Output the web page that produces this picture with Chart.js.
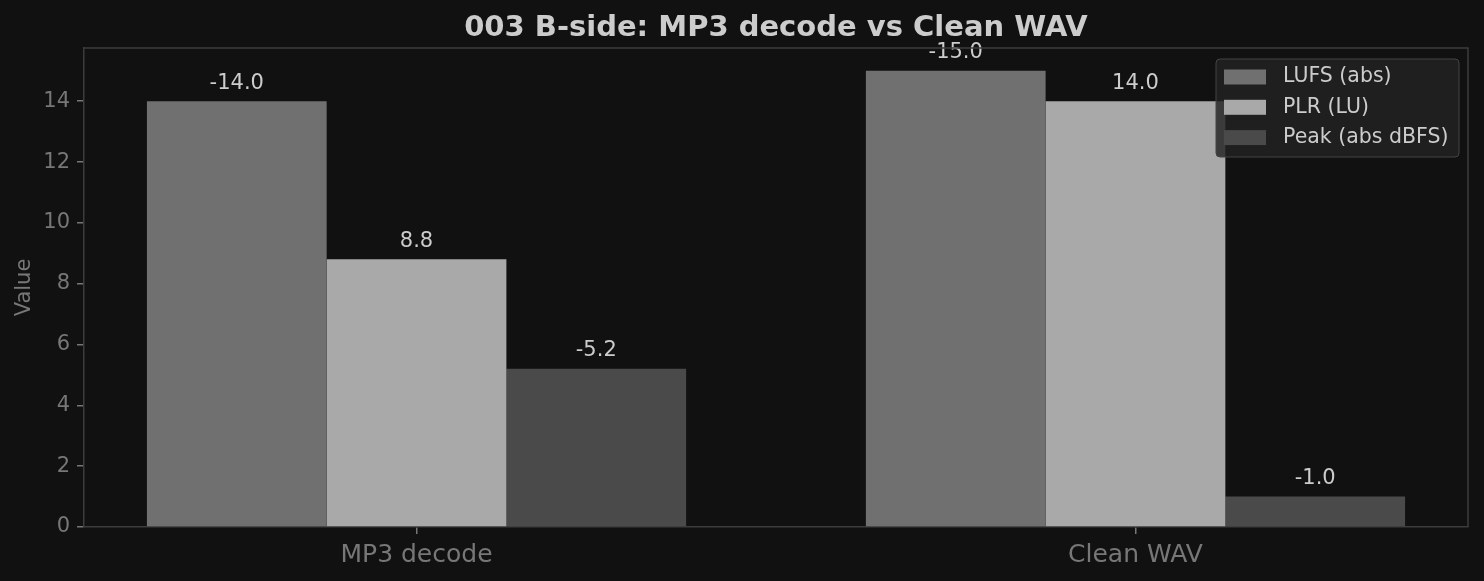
<!DOCTYPE html>
<html>
<head>
<meta charset="utf-8">
<script src="https://cdn.jsdelivr.net/npm/chart.js@4"></script>
<style>
    html, body { margin: 0; padding: 0; background: #111111; }
    canvas { display: block; }
</style>
</head>
<body>
<canvas id="chart" width="1484" height="581"></canvas>
<script>
const categories = ['MP3 decode', 'Clean WAV'];
const lufs = [-14.0, -15.0];
const plr = [8.8, 14.0];
const peak = [-5.2, -1.0];
const seriesLabels = ['LUFS (abs)', 'PLR (LU)', 'Peak (abs dBFS)'];
const seriesColors = ['#707070', '#a9a9a9', '#4a4a4a'];
const yTicks = [0, 2, 4, 6, 8, 10, 12, 14];

const FONT = "'DejaVu Sans', sans-serif";

function toPoints(values) {
    return values.map((v, i) => ({ x: i, y: Math.abs(v) }));
}

const rawSeries = [lufs, plr, peak];

// value labels above bars + frame + title + legend
const decorPlugin = {
    id: 'decor',
    afterDatasetsDraw(chart) {
        const ctx = chart.ctx;
        const area = chart.chartArea;

        // value labels
        ctx.save();
        ctx.font = `21px ${FONT}`;
        ctx.fillStyle = '#cccccc';
        ctx.textAlign = 'center';
        ctx.textBaseline = 'middle';
        chart.data.datasets.forEach((ds, di) => {
            const meta = chart.getDatasetMeta(di);
            meta.data.forEach((bar, i) => {
                ctx.fillText(rawSeries[di][i].toFixed(1), bar.x, bar.y - 18);
            });
        });
        ctx.restore();

        // top / right spines
        ctx.save();
        ctx.strokeStyle = '#3c3c3c';
        ctx.lineWidth = 1.5;
        ctx.beginPath();
        ctx.moveTo(area.left, area.top);
        ctx.lineTo(area.right, area.top);
        ctx.lineTo(area.right, area.bottom);
        ctx.stroke();
        ctx.restore();

        // title
        ctx.save();
        ctx.font = `bold 29px ${FONT}`;
        ctx.fillStyle = '#cccccc';
        ctx.textAlign = 'center';
        ctx.textBaseline = 'middle';
        ctx.fillText('003 B-side: MP3 decode vs Clean WAV', (area.left + area.right) / 2, 28);
        ctx.restore();

        // legend
        const lx = 1216, ly = 59, lw = 243, lh = 98;
        ctx.save();
        ctx.fillStyle = 'rgba(34,34,34,0.82)';
        ctx.strokeStyle = '#444444';
        ctx.lineWidth = 1;
        ctx.beginPath();
        ctx.roundRect(lx, ly, lw, lh, 4);
        ctx.fill();
        ctx.stroke();
        ctx.font = `20.5px ${FONT}`;
        ctx.textBaseline = 'middle';
        ctx.textAlign = 'left';
        seriesLabels.forEach((label, i) => {
            const cy = 77 + i * 30.3;
            ctx.fillStyle = seriesColors[i];
            ctx.fillRect(1224, cy - 7.5, 42, 15);
            ctx.fillStyle = '#cccccc';
            ctx.fillText(label, 1283, cy);
        });
        ctx.restore();
    }
};

new Chart(document.getElementById('chart'), {
    type: 'bar',
    data: {
        datasets: seriesLabels.map((label, i) => ({
            label: label,
            data: toPoints(rawSeries[i]),
            backgroundColor: seriesColors[i],
            borderWidth: 0,
            categoryPercentage: 0.75,
            barPercentage: 1.0
        }))
    },
    options: {
        responsive: false,
        animation: false,
        devicePixelRatio: 1,
        layout: { padding: { top: 48, right: 16, left: 0, bottom: 0 } },
        plugins: {
            legend: { display: false },
            title: { display: false },
            tooltip: { enabled: false }
        },
        scales: {
            x: {
                type: 'linear',
                min: -0.4625,
                max: 1.4625,
                offset: false,
                afterBuildTicks: (scale) => {
                    scale.ticks = categories.map((c, i) => ({ value: i }));
                },
                afterFit: (scale) => { scale.height = 54; },
                grid: { offset: false, drawOnChartArea: false, tickLength: 7, color: '#777777', lineWidth: 1.5 },
                border: { color: '#3c3c3c', width: 1.5 },
                ticks: {
                    color: '#777777',
                    font: { family: FONT, size: 25 },
                    padding: 6,
                    maxRotation: 0,
                    callback: (v) => categories[v]
                }
            },
            y: {
                min: 0,
                max: 15.75,
                afterBuildTicks: (scale) => {
                    scale.ticks = yTicks.map(v => ({ value: v }));
                },
                afterFit: (scale) => { scale.width = 84; },
                grid: { drawOnChartArea: false, tickLength: 7, color: '#777777', lineWidth: 1.5 },
                border: { color: '#3c3c3c', width: 1.5 },
                ticks: {
                    color: '#777777',
                    font: { family: FONT, size: 21 },
                    padding: 7
                },
                title: {
                    display: true,
                    text: 'Value',
                    color: '#777777',
                    font: { family: FONT, size: 21 },
                    padding: { top: 12, bottom: 0 }
                }
            }
        }
    },
    plugins: [decorPlugin]
});
</script>
</body>
</html>
